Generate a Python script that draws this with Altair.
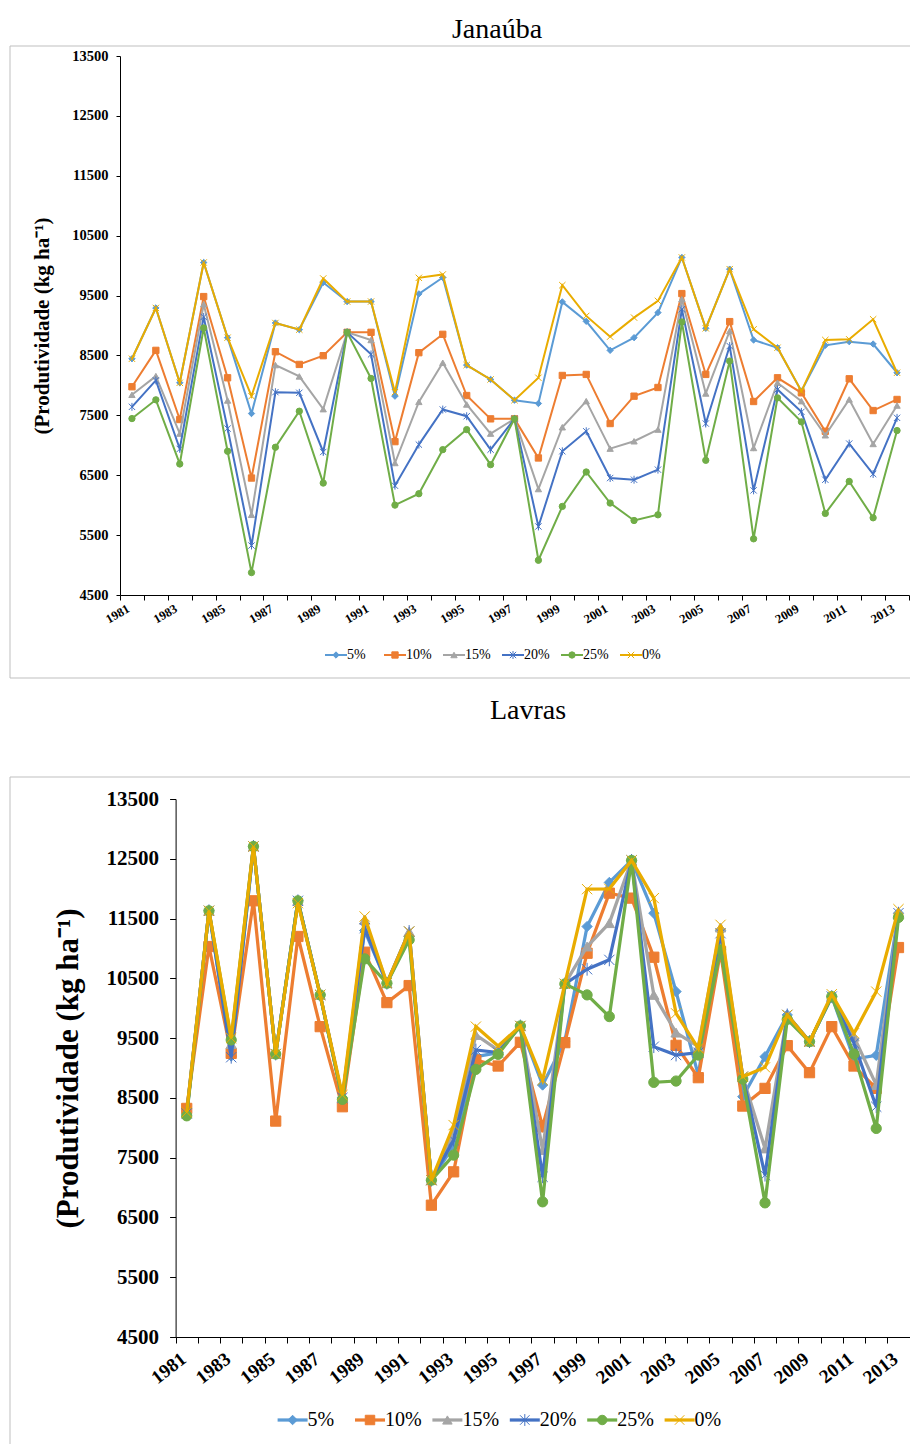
import altair as alt
import pandas as pd

years = list(range(1981, 2014))
series_names = ["5%", "10%", "15%", "20%", "25%", "0%"]
series_colors = ["#5B9BD5", "#ED7D31", "#A5A5A5", "#4472C4", "#70AD47", "#E9AC00"]
series_shapes = ["diamond", "square", "triangle-up",
                 "M-1,-1L1,1M-1,1L1,-1M0,-1.25L0,1.25", "circle",
                 "M-1,-1L1,1M-1,1L1,-1"]
y_ticks = [4500, 5500, 6500, 7500, 8500, 9500, 10500, 11500, 12500, 13500]

# Janaúba
jan_5 = [8445, 9293, 8044, 10052, 8797, 7530, 9042, 8931, 9718, 9400, 9400, 7820, 9528, 9801, 8339, 8099, 7753,
         7698, 9394, 9070, 8585, 8797, 9215, 10136, 8953, 9941, 8758, 8629, 7904, 8669, 8730, 8691, 8211]
jan_10 = [7977, 8585, 7430, 9483, 8127, 6453, 8562, 8350, 8496, 8886, 8886, 7061, 8546, 8853, 7831, 7441, 7441,
          6788, 8166, 8183, 7363, 7820, 7965, 9533, 8183, 9065, 7731, 8127, 7876, 7234, 8110, 7580, 7765]
jan_15 = [7843, 8155, 7195, 9355, 7748, 5839, 8339, 8150, 7603, 8886, 8758, 6704, 7725, 8378, 7681, 7195, 7441,
          6269, 7301, 7737, 6944, 7067, 7262, 9439, 7865, 8908, 6955, 8044, 7737, 7167, 7765, 7022, 7664]
jan_20 = [7642, 8083, 6939, 9143, 7279, 5326, 7887, 7876, 6888, 8886, 8518, 6325, 7011, 7597, 7485, 6927, 7441,
          5644, 6900, 7234, 6453, 6425, 6593, 9271, 7363, 8657, 6247, 7932, 7558, 6425, 7028, 6520, 7458]
jan_25 = [7446, 7759, 6688, 8959, 6900, 4874, 6967, 7569, 6369, 8886, 8116, 6001, 6191, 6927, 7262, 6676, 7441,
          5080, 5979, 6554, 6035, 5744, 5839, 9059, 6749, 8406, 5438, 7792, 7391, 5862, 6397, 5789, 7246]
jan_0 = [8445, 9293, 8044, 10052, 8797, 7820, 9042, 8931, 9785, 9400, 9400, 7887, 9796, 9852, 8339, 8099, 7753,
         8127, 9673, 9160, 8814, 9132, 9411, 10136, 8953, 9941, 8936, 8629, 7904, 8758, 8769, 9104, 8211]

# Lavras
lav_5 = [8230, 11630, 9200, 12707, 9234, 11797, 10223, 8500, 11300, 10418, 11200, 7124, 7700, 9190, 9257, 9703, 8715,
         9450, 11367, 12104, 12473, 11590, 10278, 8880, 11300, 8520, 9190, 9888, 9441, 10195, 9150, 9212, 11590]
lav_10 = [8324, 11032, 9245, 11797, 8112, 11200, 9692, 8352, 10937, 10094, 10379, 6705, 7263, 9134, 9033, 9430, 8017,
          9424, 10920, 11925, 11842, 10853, 9379, 8838, 10950, 8363, 8659, 9374, 8922, 9692, 9033, 8659, 11015]
lav_15 = [8250, 11630, 9400, 12707, 9234, 11797, 10223, 8500, 11480, 10418, 11283, 7124, 7900, 9552, 9301, 9703, 7626,
          10407, 11032, 11423, 12473, 10223, 9592, 9357, 11350, 8855, 7654, 9888, 9441, 10195, 9525, 8715, 11600]
lav_20 = [8240, 11630, 9180, 12707, 9234, 11797, 10223, 8500, 11339, 10418, 11283, 7124, 7794, 9301, 9257, 9703, 7180,
          10407, 10652, 10809, 12473, 9357, 9217, 9257, 11255, 8855, 7207, 9888, 9441, 10195, 9413, 8352, 11590]
lav_25 = [8200, 11630, 9469, 12707, 9234, 11797, 10223, 8475, 10826, 10418, 11144, 7124, 7543, 8977, 9229, 9703, 6761,
          10407, 10223, 9860, 12473, 8760, 8782, 9217, 10976, 8815, 6744, 9815, 9441, 10195, 9234, 7989, 11518]
lav_0 = [8260, 11630, 9500, 12707, 9234, 11758, 10223, 8547, 11535, 10418, 11283, 7124, 8045, 9692, 9368, 9703, 8799,
         10407, 11992, 11997, 12473, 11842, 9915, 9329, 11395, 8855, 9011, 9888, 9441, 10234, 9581, 10278, 11657]

FONT = "Liberation Serif"
Y_TITLE = "(Produtividade (kg ha\u207b\u00b9)"
CW, CH = 910, 1444
BORDER = "#BFBFBF"
one = pd.DataFrame({"k": [0]})


def plot_panel(series_values, c):
    rows = []
    for name, vals in zip(series_names, series_values):
        for yr, v in zip(years, vals):
            rows.append({"year": yr, "value": v, "series": name})
    df = pd.DataFrame(rows)
    x0, x1, yt, yb = c["x0"], c["x1"], c["yt"], c["yb"]

    xenc = alt.X(
        "year:O",
        bandPosition=0.5,
        scale=alt.Scale(type="band", paddingInner=0, paddingOuter=0, range=[x0, x1]),
        axis=alt.Axis(
            orient="bottom", offset=yb - CH,
            title=None, grid=False, tickBand="extent", tickSize=c["xtick"], tickColor="black",
            domainColor="black", labelExpr="datum.value % 2 == 1 ? datum.label : ''",
            labelAngle=c["xangle"], labelAlign="right", labelBaseline="top", labelOffset=c["xoff"],
            labelFont=FONT, labelFontWeight="bold", labelFontSize=c["xlab"], labelColor="black",
            labelPadding=c["xpad"], labelOverlap=False, labelBound=False, labelFlush=False,
        ),
    )
    yenc = alt.Y(
        "value:Q",
        scale=alt.Scale(domain=[4500, 13500], nice=False, zero=False, range=[yb, yt]),
        axis=alt.Axis(
            orient="left", offset=-x0,
            title=Y_TITLE, values=y_ticks, format="d", grid=False, tickSize=c["ytick"], tickColor="black",
            domainColor="black", labelFont=FONT, labelFontWeight="bold", labelFontSize=c["ylab"],
            labelColor="black", labelPadding=c["ypad"],
            titleFont=FONT, titleFontWeight="bold", titleFontSize=c["ytitle"], titleColor="black",
            titleX=c["titleX"], titleY=(yt + yb) / 2, titleAlign="center", titleBaseline="middle",
        ),
    )
    base = alt.Chart(df).encode(x=xenc, y=yenc)
    layers = []
    for name, col, shp in zip(series_names, series_colors, series_shapes):
        sub = base.transform_filter(alt.datum.series == name)
        layers.append(sub.mark_line(color=col, strokeWidth=c["lw"]))
        layers.append(sub.mark_point(shape=shp, filled=True, fill=col, stroke=col, strokeWidth=1,
                                     size=c["ms"], opacity=1))
    return alt.layer(*layers)


def legend_panel(c):
    leg_df = pd.DataFrame({"series": series_names, "color": series_colors, "shape": series_shapes})
    lx = alt.X("series:N", sort=series_names,
               scale=alt.Scale(type="point", domain=series_names, range=c["legrange"], padding=0), axis=None)
    lbase = alt.Chart(leg_df).encode(x=lx, y=alt.value(c["legy"]))
    leg_line = lbase.mark_rule(strokeWidth=c["lw"], xOffset=-c["leghalf"], x2Offset=c["leghalf"]).encode(
        x2=alt.X2("series:N"), color=alt.Color("color:N", scale=None))
    leg_pt = lbase.mark_point(filled=True, opacity=1, size=c["legms"], strokeWidth=1).encode(
        shape=alt.Shape("shape:N", scale=None), fill=alt.Fill("color:N", scale=None),
        stroke=alt.Stroke("color:N", scale=None))
    leg_txt = lbase.mark_text(align="left", baseline="middle", dx=c["legdx"], font=FONT,
                              fontSize=c["legfs"], color="black").encode(text="series:N")
    return alt.layer(leg_line, leg_pt, leg_txt)


def decorations(title, c):
    parts = []
    rule = alt.Chart(one).mark_rule(color=BORDER, strokeWidth=1)
    parts.append(rule.encode(x=alt.value(c["bx"]), x2=alt.value(CW), y=alt.value(c["by"])))
    parts.append(rule.encode(x=alt.value(c["bx"]), y=alt.value(c["by"]), y2=alt.value(c["bb"])))
    if c["bottom_border"]:
        parts.append(rule.encode(x=alt.value(c["bx"]), x2=alt.value(CW), y=alt.value(c["bb"])))
    parts.append(alt.Chart(one).mark_text(text=title, font=FONT, fontSize=28, color="black",
                                          align="center", baseline="alphabetic").encode(
        x=alt.value(c["tx"]), y=alt.value(c["ty"])))
    return alt.layer(*parts)


cfg1 = dict(x0=120, x1=909, yt=56, yb=595, xtick=5, xangle=-30, xlab=12.5, xpad=2, xoff=-7,
            ytick=4, ylab=14.5, ypad=8, ytitle=21, titleX=-78, lw=2, ms=40,
            bx=10, by=46, bb=678, bottom_border=True,
            legrange=[336, 631], legy=655, leghalf=11, legms=40, legdx=11, legfs=14,
            tx=497, ty=38)
cfg2 = dict(x0=175.6, x1=909.6, yt=799, yb=1337, xtick=6, xangle=-38, xlab=19, xpad=6, xoff=-9,
            ytick=6, ylab=21, ypad=11, ytitle=31, titleX=-107, lw=3.25, ms=105,
            bx=10, by=777, bb=CH, bottom_border=False,
            legrange=[292.6, 679.6], legy=1420, leghalf=15, legms=90, legdx=15, legfs=20,
            tx=528, ty=719)

chart = alt.layer(
    decorations("Janaúba", cfg1),
    decorations("Lavras", cfg2),
    plot_panel([jan_5, jan_10, jan_15, jan_20, jan_25, jan_0], cfg1),
    plot_panel([lav_5, lav_10, lav_15, lav_20, lav_25, lav_0], cfg2),
    legend_panel(cfg1),
    legend_panel(cfg2),
).resolve_scale(x="independent", y="independent").properties(
    width=CW, height=CH,
    autosize=alt.AutoSizeParams(type="none"),
    padding=0,
    background="white",
).configure_view(stroke=None)

chart.save("out.html", embed_options={"renderer": "svg", "actions": False})
